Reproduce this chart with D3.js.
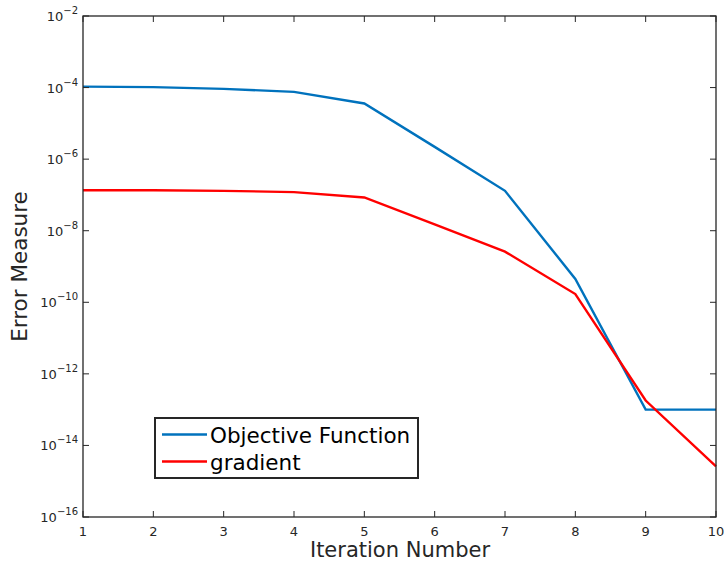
<!DOCTYPE html>
<html><head><meta charset="utf-8">
<script src="https://cdn.jsdelivr.net/npm/d3@7"></script>
<style>body{margin:0;background:#fff}svg{display:block}text{font-family:"DejaVu Sans",sans-serif}</style>
</head><body>
<svg id="c" width="724" height="563"></svg>
<script>
const iterations = [1,2,3,4,5,6,7,8,9,10];
const objectiveValues = [1.06e-4,1.03e-4,9.2e-5,7.6e-5,3.6e-5,2.2e-6,1.3e-7,4.5e-10,1e-13,1e-13];
const gradientValues = [1.35e-7,1.35e-7,1.3e-7,1.2e-7,8.5e-8,1.5e-8,2.6e-9,1.7e-10,1.8e-13,2.6e-15];
const seriesNames = ["Objective Function","gradient"];
const xTicks = [1,2,3,4,5,6,7,8,9,10];
const yTickExponents = [-16,-14,-12,-10,-8,-6,-4,-2];
const xLabel = "Iteration Number";
const yLabel = "Error Measure";

const svg = d3.select("#c");
const L=83,R=716,T=16,B=517;
const x = d3.scaleLinear().domain([1,10]).range([L,R]);
const y = d3.scaleLog().domain([1e-16,1e-2]).range([B,T]);
const axCol="#262626";

const colors=["#0072BD","#FF0000"];
const series=[objectiveValues,gradientValues];
const line=d3.line().x((d,i)=>x(iterations[i])).y(d=>y(d));
series.forEach((s,k)=>{
  svg.append("path").datum(s).attr("d",line).attr("fill","none")
    .attr("stroke",colors[k]).attr("stroke-width",2.4);
});

// box
svg.append("rect").attr("x",L).attr("y",T).attr("width",R-L).attr("height",B-T)
  .attr("fill","none").attr("stroke",axCol).attr("stroke-width",1.3);

const g=svg.append("g");
xTicks.forEach(t=>{
  const px=x(t);
  g.append("line").attr("x1",px).attr("x2",px).attr("y1",B).attr("y2",B-6).attr("stroke",axCol);
  g.append("line").attr("x1",px).attr("x2",px).attr("y1",T).attr("y2",T+6).attr("stroke",axCol);
  g.append("text").attr("x",px).attr("y",B+19).attr("text-anchor","middle")
    .attr("font-size",13).attr("fill",axCol).text(t);
});
yTickExponents.forEach(e=>{
  const py=y(Math.pow(10,e));
  g.append("line").attr("x1",L).attr("x2",L+6).attr("y1",py).attr("y2",py).attr("stroke",axCol);
  g.append("line").attr("x1",R).attr("x2",R-6).attr("y1",py).attr("y2",py).attr("stroke",axCol);
  const t=g.append("text").attr("x",L-5).attr("y",py+5).attr("text-anchor","end")
    .attr("fill",axCol).attr("font-size",13);
  t.append("tspan").text("10");
  t.append("tspan").attr("dy",-7).attr("font-size",10).text("\u2212"+Math.abs(e));
});

svg.append("text").attr("x",400).attr("y",557).attr("text-anchor","middle")
  .attr("font-size",21).attr("fill",axCol).text(xLabel);
svg.append("text").attr("transform",`translate(27,${(T+B)/2}) rotate(-90)`)
  .attr("text-anchor","middle").attr("font-size",21.5).attr("fill",axCol).text(yLabel);

// legend
const lg=svg.append("g");
lg.append("rect").attr("x",155).attr("y",418).attr("width",263).attr("height",60)
  .attr("fill","#fff").attr("stroke",axCol).attr("stroke-width",2);
seriesNames.forEach((n,i)=>{
  const cy=434.5+i*27;
  lg.append("line").attr("x1",162).attr("x2",207).attr("y1",cy).attr("y2",cy)
    .attr("stroke",colors[i]).attr("stroke-width",2.4);
  lg.append("text").attr("x",210).attr("y",cy+8).attr("font-size",21.5).attr("fill","#000").text(n);
});
</script>
</body></html>
